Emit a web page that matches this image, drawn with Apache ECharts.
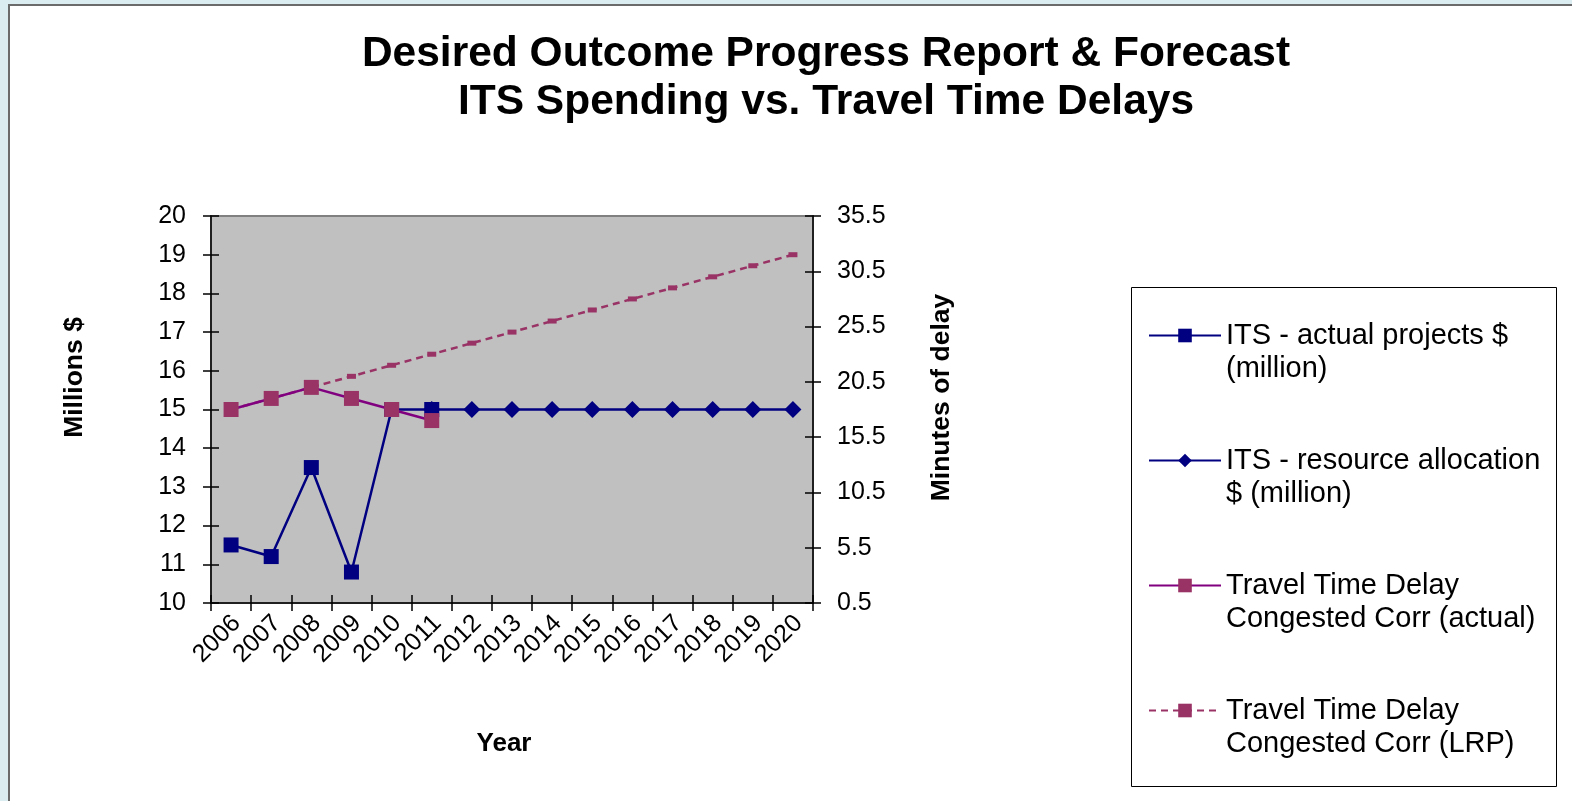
<!DOCTYPE html>
<html>
<head>
<meta charset="utf-8">
<script src="https://cdn.jsdelivr.net/npm/echarts@6/dist/echarts.min.js"></script>
<style>
  html, body { margin: 0; padding: 0; width: 1572px; height: 801px; overflow: hidden; background: #dbedf0; }
  #panel { position: absolute; left: 8px; top: 4px; width: 1600px; height: 900px; background: #ffffff;
           border-top: 2px solid #6b6b6b; border-left: 2px solid #6b6b6b; }
  #chart { position: absolute; left: 0; top: 0; width: 1572px; height: 801px; }
</style>
</head>
<body>
<div id="panel"></div>
<div id="chart"></div>
<script>
// ---- data ----
const years = ['2006','2007','2008','2009','2010','2011','2012','2013','2014','2015','2016','2017','2018','2019','2020'];
const itsActual = [11.5, 11.2, 13.5, 10.8, 15, 15, null, null, null, null, null, null, null, null, null];
const itsAllocation = [null, null, null, null, null, 15, 15, 15, 15, 15, 15, 15, 15, 15, 15];
const delayActual = [18, 19, 20, 19, 18, 17, null, null, null, null, null, null, null, null, null];
const delayLRP = [18, 19, 20, 21, 22, 23, 24, 25, 26, 27, 28, 29, 30, 31, 32];
const leftTicks = { min: 10, max: 20, interval: 1 };
const rightTicks = { min: 0.5, max: 35.5, interval: 5 };
const seriesNames = [
  'ITS - actual projects $\n(million)',
  'ITS - resource allocation\n$ (million)',
  'Travel Time Delay\nCongested Corr (actual)',
  'Travel Time Delay\nCongested Corr (LRP)'
];

const FONT = "'Liberation Sans', Arial, sans-serif";
const chart = echarts.init(document.getElementById('chart'), null, { renderer: 'canvas' });

const axisLine = { show: true, lineStyle: { color: '#000', width: 1.5 } };
const tickOut = { show: true, length: 8, lineStyle: { color: '#000', width: 1.5 } };
const tickIn = { show: true, inside: true, length: 8, lineStyle: { color: '#000', width: 1.5 } };

const option = {
  backgroundColor: 'transparent',
  animation: false,
  title: {
    text: 'Desired Outcome Progress Report & Forecast\nITS Spending vs. Travel Time Delays',
    left: 826, top: 30, padding: 0, textAlign: 'center',
    textStyle: { fontFamily: FONT, fontSize: 42.5, fontWeight: 'bold', color: '#000', lineHeight: 48 }
  },
  grid: {
    left: 211, top: 216, right: 759, bottom: 198,
    show: true, backgroundColor: '#c0c0c0', borderColor: '#808080', borderWidth: 2
  },
  legend: {
    orient: 'vertical', left: 1148, top: 286, padding: 0,
    itemWidth: 72, itemHeight: 17, itemGap: 26,
    data: seriesNames,
    formatter: function (name) { return '\n' + name; },
    textStyle: { fontFamily: FONT, fontSize: 29, color: '#000', lineHeight: 33 }
  },
  graphic: [{
    type: 'rect', left: 1131, top: 287, z: -1,
    shape: { width: 425, height: 499 },
    style: { fill: '#fff', stroke: '#000', lineWidth: 1 }
  }],
  xAxis: [{
    type: 'category', data: years, boundaryGap: true,
    axisLine: axisLine, axisTick: tickOut,
    axisLabel: { interval: 0, rotate: 45, margin: 22, padding: [0, -8, 0, 0], fontFamily: FONT, fontSize: 25, color: '#000' },
    name: 'Year', nameLocation: 'middle', nameGap: 128,
    nameTextStyle: { fontFamily: FONT, fontSize: 26, fontWeight: 'bold', color: '#000', padding: [0, 16, 0, 0] },
    splitLine: { show: false }
  }, {
    type: 'category', data: years, boundaryGap: true, position: 'bottom',
    axisLine: { show: false }, axisTick: tickIn, axisLabel: { show: false }, splitLine: { show: false }
  }],
  yAxis: [{
    type: 'value', position: 'left', min: leftTicks.min, max: leftTicks.max, interval: leftTicks.interval,
    axisLine: axisLine, axisTick: tickOut, splitLine: { show: false },
    axisLabel: { margin: 25, fontFamily: FONT, fontSize: 25, color: '#000' },
    name: 'Millions $', nameLocation: 'middle', nameGap: 123, nameRotate: 90,
    nameTextStyle: { fontFamily: FONT, fontSize: 26.5, fontWeight: 'bold', color: '#000', padding: [0, 0, 0, 64] }
  }, {
    type: 'value', position: 'right', min: rightTicks.min, max: rightTicks.max, interval: rightTicks.interval,
    axisLine: axisLine, axisTick: tickOut, splitLine: { show: false },
    axisLabel: { margin: 24, fontFamily: FONT, fontSize: 25, color: '#000' },
    name: 'Minutes of delay', nameLocation: 'middle', nameGap: 115, nameRotate: 90,
    nameTextStyle: { fontFamily: FONT, fontSize: 26.5, fontWeight: 'bold', color: '#000', padding: [0, 0, 0, 24] }
  }, {
    type: 'value', position: 'left', min: leftTicks.min, max: leftTicks.max, interval: leftTicks.interval,
    axisLine: { show: false }, axisTick: tickIn, axisLabel: { show: false }, splitLine: { show: false }
  }, {
    type: 'value', position: 'right', min: rightTicks.min, max: rightTicks.max, interval: rightTicks.interval,
    axisLine: { show: false }, axisTick: tickIn, axisLabel: { show: false }, splitLine: { show: false }
  }],
  series: [{
    name: seriesNames[0], type: 'line', xAxisIndex: 0, yAxisIndex: 0, data: itsActual,
    symbol: 'rect', symbolSize: 15, z: 3,
    lineStyle: { color: '#000080', width: 2.5 }, itemStyle: { color: '#000080' }
  }, {
    name: seriesNames[1], type: 'line', xAxisIndex: 0, yAxisIndex: 0, data: itsAllocation,
    symbol: 'diamond', symbolSize: 17, z: 2,
    lineStyle: { color: '#000080', width: 2.5 }, itemStyle: { color: '#000080' }
  }, {
    name: seriesNames[2], type: 'line', xAxisIndex: 0, yAxisIndex: 1, data: delayActual,
    symbol: 'rect', symbolSize: 15, z: 4,
    lineStyle: { color: '#800080', width: 2.5 }, itemStyle: { color: '#993366' }
  }, {
    name: seriesNames[3], type: 'line', xAxisIndex: 0, yAxisIndex: 1, data: delayLRP,
    symbol: 'rect', symbolSize: [9, 5], z: 1,
    lineStyle: { color: '#993366', width: 2.5, type: [7, 5] }, itemStyle: { color: '#993366' }
  }]
};
chart.setOption(option);
</script>
</body>
</html>
